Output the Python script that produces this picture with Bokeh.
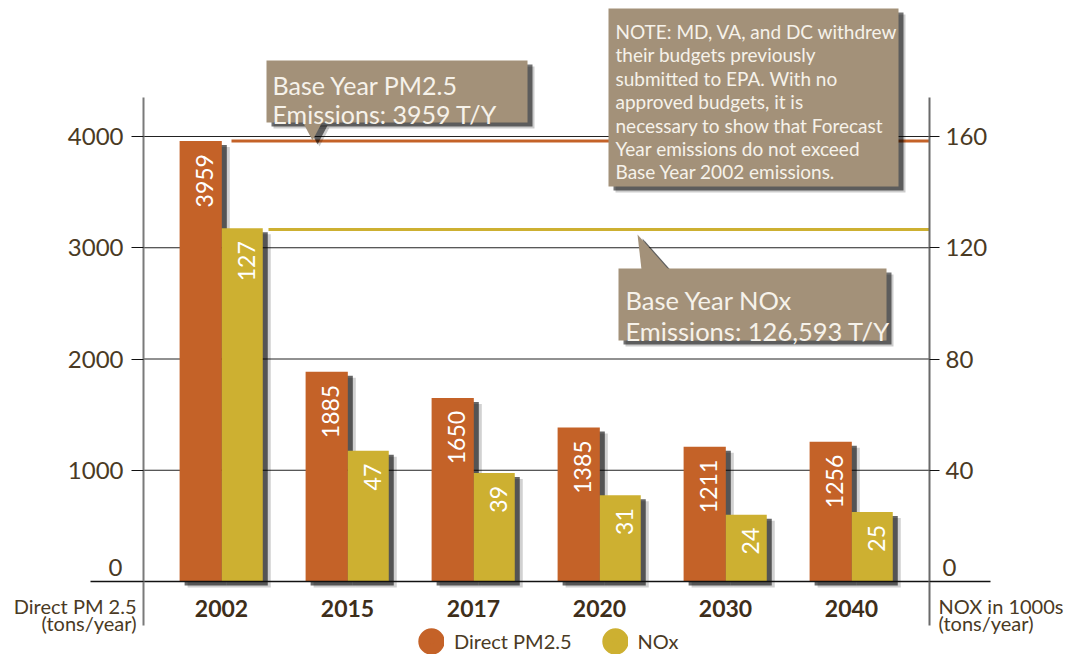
import math
from bokeh.plotting import figure
from bokeh.models import (FactorRange, Range1d, LinearAxis, FixedTicker, ColumnDataSource,
                          BoxAnnotation, PolyAnnotation, Label, Legend, LegendItem)
from bokeh.transform import dodge
from bokeh.core.properties import value
from bokeh.embed import file_html
from bokeh.resources import INLINE

# ---------------- data ----------------
years = ["2002", "2015", "2017", "2020", "2030", "2040"]
pm25 = [3959, 1885, 1650, 1385, 1211, 1256]          # tons/year
nox = [127, 47, 39, 31, 24, 25]                     # 1000s tons/year
pm_ticks = [0, 1000, 2000, 3000, 4000]
nox_ticks = [0, 40, 80, 120, 160]
base_pm = 3959
base_nox = 126.593
series_names = ["Direct PM2.5", "NOx"]
note_lines = ["NOTE: MD, VA, and DC withdrew", "their budgets previously",
              "submitted to EPA. With no", "approved budgets, it is",
              "necessary to show that Forecast", "Year emissions do not exceed",
              "Base Year 2002 emissions."]
pm_callout = ["Base Year PM2.5", "Emissions: 3959 T/Y"]
nox_callout = ["Base Year NOx", "Emissions: 126,593 T/Y"]

# ---------------- style / layout ----------------
ORANGE = "#c46228"
YELLOW = "#cdb031"
BOXC = "#a39179"
BOXTXT = "#f6f2ea"
BROWN = "#4a3a24"
FONT = "Lato"

W, H = 1066, 658
FL = 6                                   # frame left (px)
AX_L, AX_R, AX_T, AX_B = 143, 929, 97, 625   # visible plot box (px)
Y0, Y4000 = 581, 136
UNIT_X = 126.0                           # px per category
PAD = (221 - FL) / UNIT_X - 0.5
PXY = (Y0 - Y4000) / 4000.0
NOX_SCALE = 25.0


def xd(px):
    return (px - FL) / UNIT_X - PAD


def yd(py):
    return (Y0 - py) / PXY


p = figure(width=W, height=H, title=None,
           x_range=FactorRange(*years, range_padding=PAD, range_padding_units="absolute"),
           y_range=Range1d(yd(H), yd(0)),
           output_backend="svg", toolbar_location=None,
           min_border_left=FL, min_border_right=0, min_border_top=0, min_border_bottom=0)
p.outline_line_color = None
p.background_fill_color = "white"
p.border_fill_color = "white"
p.extra_y_ranges = {"nox": Range1d(yd(H) / NOX_SCALE, yd(0) / NOX_SCALE)}

# axes (placed at fixed locations inside the frame)
left = p.yaxis[0]
left.ticker = FixedTicker(ticks=pm_ticks)
left.major_label_overrides = {0: ""}      # the zero label sits above the baseline
left.fixed_location = xd(AX_L)
left.bounds = (yd(AX_B), yd(AX_T))
left.axis_line_color = "#7a7a7a"
left.axis_line_width = 2
left.major_tick_in = 0
left.major_tick_out = 12
left.major_tick_line_color = "#111111"
left.minor_tick_line_color = None
left.major_label_standoff = 8
left.major_label_text_font = FONT
left.major_label_text_font_size = "24px"
left.major_label_text_color = BROWN

right = LinearAxis(y_range_name="nox", ticker=FixedTicker(ticks=nox_ticks))
right.major_label_overrides = {0: ""}
right.fixed_location = xd(AX_R)
right.bounds = (yd(AX_B) / NOX_SCALE, yd(AX_T) / NOX_SCALE)
right.axis_line_color = "#6a6a6a"
right.axis_line_width = 2
right.major_tick_in = 0
right.major_tick_out = 10
right.major_tick_line_color = "#111111"
right.minor_tick_line_color = None
right.major_label_standoff = 6
right.major_label_text_font = FONT
right.major_label_text_font_size = "24px"
right.major_label_text_color = BROWN
p.add_layout(right, "right")

# zero labels (drawn slightly above the baseline, as in the original)
p.add_layout(Label(x=xd(122), y=yd(567), text=str(pm_ticks[0]), text_font=FONT,
                   text_font_size="24px", text_color=BROWN, text_align="right",
                   text_baseline="middle"))
p.add_layout(Label(x=xd(942), y=yd(567), text=str(nox_ticks[0]), text_font=FONT,
                   text_font_size="24px", text_color=BROWN, text_align="left",
                   text_baseline="middle"))

xa = p.xaxis[0]
xa.fixed_location = 0
xa.bounds = (xd(90), xd(990))
xa.axis_line_color = "#111111"
xa.axis_line_width = 1.5
xa.major_tick_line_color = None
xa.minor_tick_line_color = None
xa.major_label_standoff = 12
xa.major_label_text_font = FONT
xa.major_label_text_font_size = "23px"
xa.major_label_text_font_style = "bold"
xa.major_label_text_color = "#3e2e1a"

p.xgrid.visible = False
p.ygrid.visible = False
# horizontal grid lines at the PM tick values, limited to the plot box
p.segment(x0=xd(AX_L), x1=xd(AX_R), y0=pm_ticks[1:], y1=pm_ticks[1:],
          line_color="#222222", line_width=1)

src = ColumnDataSource(dict(year=years, pm=pm25, nox=nox,
                            pm_lbl=[str(v) for v in pm25],
                            nox_lbl=[str(v) for v in nox]))

OX, OY = -0.165, 0.165
WO, WY = 0.335, 0.325

# shadows
for dxp, dyp, alpha in [(8, 6, 0.18), (5, 4, 0.6)]:
    dx = dxp / UNIT_X
    dy = dyp / PXY
    p.vbar(x=dodge("year", OX + dx, range=p.x_range), top=dodge("pm", -dy), bottom=-dy,
           width=WO, source=src, fill_color="#000000", fill_alpha=alpha, line_color=None)
    p.vbar(x=dodge("year", OY + dx, range=p.x_range), top=dodge("nox", -dy / NOX_SCALE),
           bottom=-dy / NOX_SCALE, width=WY, source=src, y_range_name="nox",
           fill_color="#000000", fill_alpha=alpha, line_color=None)

p.vbar(x=dodge("year", OX, range=p.x_range), top="pm", bottom=0, width=WO, source=src,
       fill_color=ORANGE, line_color=None)
p.vbar(x=dodge("year", OY, range=p.x_range), top="nox", bottom=0, width=WY, source=src,
       y_range_name="nox", fill_color=YELLOW, line_color=None)

# bar value labels
p.text(x=dodge("year", OX, range=p.x_range), y="pm", text="pm_lbl", source=src,
       angle=math.pi / 2, text_align="right", text_baseline="middle",
       x_offset=4, y_offset=13, text_color="white", text_font=value(FONT),
       text_font_size="23px")
p.text(x=dodge("year", OY, range=p.x_range), y="nox", text="nox_lbl", source=src,
       y_range_name="nox", angle=math.pi / 2, text_align="right", text_baseline="middle",
       x_offset=4, y_offset=13, text_color="white", text_font=value(FONT),
       text_font_size="23px")

# base year reference lines
p.segment(x0=[xd(231)], y0=[base_pm], x1=[xd(AX_R)], y1=[base_pm],
          line_color=ORANGE, line_width=3)
p.segment(x0=[xd(268)], y0=[base_nox], x1=[xd(AX_R)], y1=[base_nox],
          line_color=YELLOW, line_width=3, y_range_name="nox")


# callouts
def box(l, r, t, b, pointer=None):
    for dxp, dyp, alpha in [(7, 6, 0.2), (5, 4, 0.55)]:
        p.add_layout(BoxAnnotation(left=xd(l + dxp), right=xd(r + dxp), top=yd(t + dyp),
                                   bottom=yd(b + dyp), fill_color="#000000",
                                   fill_alpha=alpha, line_color=None))
        if pointer:
            p.add_layout(PolyAnnotation(xs=[xd(px + dxp) for px, _ in pointer],
                                        ys=[yd(py + dyp) for _, py in pointer],
                                        fill_color="#000000", fill_alpha=alpha,
                                        line_color=None))
    p.add_layout(BoxAnnotation(left=xd(l), right=xd(r), top=yd(t), bottom=yd(b),
                               fill_color=BOXC, fill_alpha=1, line_color=None))
    if pointer:
        p.add_layout(PolyAnnotation(xs=[xd(px) for px, _ in pointer],
                                    ys=[yd(py) for _, py in pointer],
                                    fill_color=BOXC, fill_alpha=1, line_color=None))


def text_lines(lines, x, y0, dy, size):
    for i, t in enumerate(lines):
        p.add_layout(Label(x=xd(x), y=yd(y0 + i * dy), text=t, text_font=FONT,
                           text_font_size=size, text_color=BOXTXT,
                           text_baseline="alphabetic", text_align="left"))


box(266, 527, 60, 122, pointer=[(302, 121), (322, 121), (312, 140)])
text_lines(pm_callout, 272, 84, 29, "25px")

box(608, 898, 8, 186)
text_lines(note_lines, 615, 31, 23.4, "19px")

box(618, 886, 268, 340, pointer=[(637, 234), (641, 269), (668, 269)])
text_lines(nox_callout, 625, 299, 31, "25.5px")

# axis titles
for t, py in [("Direct PM 2.5", 605), ("(tons/year)", 622)]:
    p.add_layout(Label(x=xd(136), y=yd(py), text=t, text_font=FONT, text_font_size="20px",
                       text_color=BROWN, text_align="right", text_baseline="alphabetic"))
for t, py in [("NOX in 1000s", 605), ("(tons/year)", 622)]:
    p.add_layout(Label(x=xd(938), y=yd(py), text=t, text_font=FONT, text_font_size="20px",
                       text_color=BROWN, text_align="left", text_baseline="alphabetic"))

# legend (glyph-only renderers with a hidden NaN point, used just for the swatches)
nan = float("nan")
r1 = p.scatter(x=[nan], y=[nan], marker="circle", size=10, fill_color=ORANGE,
               line_color=ORANGE, line_width=16)
r2 = p.scatter(x=[nan], y=[nan], marker="circle", size=10, fill_color=YELLOW,
               line_color=YELLOW, line_width=16)
legend = Legend(items=[LegendItem(label=series_names[0], renderers=[r1]),
                       LegendItem(label=series_names[1], renderers=[r2])],
                orientation="horizontal", location=(418 - FL, H - 654),
                border_line_color=None,
                background_fill_alpha=0, padding=0, margin=0, spacing=30,
                label_standoff=10, glyph_width=26, glyph_height=26, label_height=26,
                label_text_font=FONT, label_text_font_size="20px", label_text_color=BROWN)
p.add_layout(legend)

open("out.html", "w").write(file_html(p, INLINE))
